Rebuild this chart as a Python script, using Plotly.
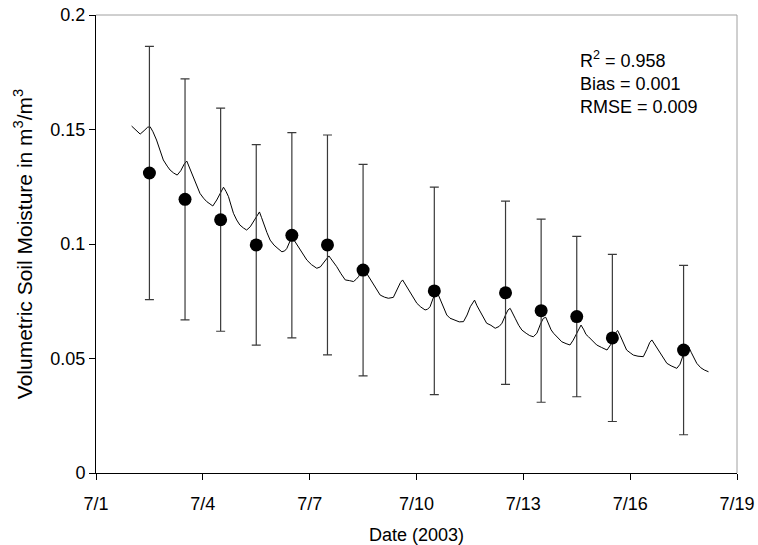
import pandas as pd
import plotly.graph_objects as go

# Continuous sensor record: decimal July day and volumetric soil moisture
line_day = [
    2.00, 2.10, 2.24, 2.35, 2.45, 2.52, 2.60, 2.70, 2.80, 2.89,
    3.00, 3.08, 3.18, 3.28, 3.38, 3.48, 3.55, 3.63, 3.73, 3.82,
    3.92, 4.02, 4.11, 4.20, 4.28, 4.39, 4.50, 4.58, 4.65, 4.72,
    4.79, 4.86, 4.95, 5.04, 5.14, 5.23, 5.33, 5.42, 5.52, 5.59,
    5.65, 5.70, 5.80, 5.89, 6.00, 6.11, 6.22, 6.30, 6.36, 6.44,
    6.50, 6.57, 6.68, 6.80, 6.92, 7.05, 7.20, 7.30, 7.38, 7.47,
    7.54, 7.60, 7.68, 7.76, 7.88, 8.00, 8.12, 8.23, 8.30, 8.37,
    8.45, 8.52, 8.60, 8.67, 8.74, 8.86, 8.98, 9.10, 9.21, 9.35,
    9.42, 9.49, 9.55, 9.61, 9.68, 9.77, 9.90, 10.01, 10.12, 10.24,
    10.31, 10.38, 10.46, 10.53, 10.58, 10.66, 10.75, 10.85, 10.94, 11.08,
    11.20, 11.32, 11.42, 11.51, 11.63, 11.70, 11.79, 11.88, 11.97, 12.09,
    12.21, 12.32, 12.40, 12.50, 12.57, 12.63, 12.70, 12.77, 12.87, 12.96,
    13.08, 13.18, 13.28, 13.38, 13.48, 13.56, 13.63, 13.70, 13.78, 13.85,
    13.96, 14.08, 14.20, 14.31, 14.40, 14.50, 14.56, 14.62, 14.70, 14.76,
    14.83, 14.95, 15.06, 15.20, 15.35, 15.45, 15.55, 15.62, 15.65, 15.72,
    15.80, 15.90, 16.00, 16.09, 16.22, 16.37, 16.47, 16.55, 16.61, 16.68,
    16.80, 16.92, 17.03, 17.15, 17.31, 17.40, 17.50, 17.58, 17.64, 17.72,
    17.80, 17.87, 17.98, 18.08, 18.20,
]
line_sm = [
    0.1515, 0.1500, 0.1480, 0.1495, 0.1510, 0.1512, 0.1490, 0.1454, 0.1405, 0.1367,
    0.1340, 0.1323, 0.1310, 0.1301, 0.1320, 0.1350, 0.1362, 0.1330, 0.1294, 0.1255,
    0.1221, 0.1200, 0.1185, 0.1175, 0.1166, 0.1192, 0.1225, 0.1248, 0.1230, 0.1207,
    0.1170, 0.1134, 0.1105, 0.1083, 0.1070, 0.1061, 0.1075, 0.1097, 0.1125, 0.1140,
    0.1115, 0.1090, 0.1050, 0.1017, 0.0995, 0.0980, 0.0966, 0.0970, 0.0981, 0.1010,
    0.1030, 0.1015, 0.0988, 0.0955, 0.0930, 0.0910, 0.0894, 0.0900, 0.0916, 0.0935,
    0.0948, 0.0935, 0.0918, 0.0901, 0.0870, 0.0843, 0.0840, 0.0836, 0.0845, 0.0857,
    0.0880, 0.0888, 0.0872, 0.0855, 0.0836, 0.0805, 0.0777, 0.0768, 0.0763, 0.0767,
    0.0790, 0.0814, 0.0832, 0.0843, 0.0825, 0.0799, 0.0768, 0.0741, 0.0725, 0.0712,
    0.0715, 0.0726, 0.0760, 0.0785, 0.0790, 0.0760, 0.0725, 0.0690, 0.0676, 0.0668,
    0.0660, 0.0661, 0.0690, 0.0726, 0.0755, 0.0730, 0.0704, 0.0675, 0.0654, 0.0645,
    0.0632, 0.0640, 0.0654, 0.0690, 0.0712, 0.0719, 0.0700, 0.0676, 0.0645, 0.0624,
    0.0610, 0.0600, 0.0595, 0.0610, 0.0650, 0.0675, 0.0680, 0.0650, 0.0625, 0.0610,
    0.0590, 0.0573, 0.0565, 0.0559, 0.0580, 0.0610, 0.0635, 0.0646, 0.0625, 0.0605,
    0.0595, 0.0575, 0.0559, 0.0548, 0.0537, 0.0560, 0.0600, 0.0618, 0.0622, 0.0600,
    0.0570, 0.0537, 0.0525, 0.0515, 0.0510, 0.0508, 0.0540, 0.0570, 0.0581, 0.0565,
    0.0537, 0.0505, 0.0479, 0.0468, 0.0457, 0.0475, 0.0520, 0.0545, 0.0552, 0.0525,
    0.0500, 0.0479, 0.0460, 0.0450, 0.0442,
]

# Field sampling campaign: mean and standard deviation
obs_day = [2.5, 3.5, 4.5, 5.5, 6.5, 7.5, 8.5, 10.5, 12.5, 13.5, 14.5, 15.5, 17.5]
obs_mean = [0.131, 0.1195, 0.1106, 0.0996, 0.1038, 0.0996, 0.0886,
            0.0795, 0.0787, 0.0709, 0.0683, 0.0590, 0.0537]
obs_sd = [0.0553, 0.0526, 0.0487, 0.0438, 0.0448, 0.0480, 0.0462,
          0.0453, 0.0400, 0.0400, 0.0350, 0.0365, 0.0370]

tick_days = [1, 4, 7, 10, 13, 16, 19]
tick_text = ["7/1", "7/4", "7/7", "7/10", "7/13", "7/16", "7/19"]

stats_text = "R<sup>2</sup> = 0.958<br>Bias = 0.001<br>RMSE = 0.009"

base = pd.Timestamp("2003-07-01")


def to_time(days):
    return [base + pd.to_timedelta(d - 1, unit="D") for d in days]


FONT = "Liberation Sans, Arial, sans-serif"

fig = go.Figure()
fig.add_trace(go.Scatter(
    x=to_time(line_day), y=line_sm, mode="lines",
    line=dict(color="black", width=1), showlegend=False,
))
fig.add_trace(go.Scatter(
    x=to_time(obs_day), y=obs_mean, mode="markers",
    marker=dict(color="black", size=13),
    error_y=dict(type="data", array=obs_sd, visible=True,
                 color="#3a3a3a", thickness=1.2, width=4.5),
    showlegend=False,
))

fig.add_annotation(
    x=0.752, y=0.933, xref="paper", yref="paper",
    xanchor="left", yanchor="top", align="left", showarrow=False,
    text=stats_text, font=dict(family=FONT, size=18, color="black"),
)

# Top and right frame lines in light grey
fig.add_shape(type="line", xref="paper", yref="paper", x0=0, x1=1, y0=1, y1=1,
              line=dict(color="#a0a0a0", width=1))
fig.add_shape(type="line", xref="paper", yref="paper", x0=1, x1=1, y0=0, y1=1,
              line=dict(color="#a0a0a0", width=1))

fig.update_layout(
    width=758, height=545,
    margin=dict(l=96, r=21, t=15, b=72, autoexpand=False),
    paper_bgcolor="white", plot_bgcolor="white",
    font=dict(family=FONT, size=18, color="black"),
    xaxis=dict(
        range=to_time([1, 19]),
        tickvals=to_time(tick_days), ticktext=tick_text,
        showgrid=False, zeroline=False, automargin=False,
        showline=True, linecolor="black", linewidth=1,
        ticks="outside", ticklen=6, tickcolor="black",
        tickfont=dict(size=18), ticklabelstandoff=8,
        title=dict(text="Date (2003)", font=dict(size=18), standoff=18),
    ),
    yaxis=dict(
        range=[0, 0.2],
        tickvals=[0, 0.05, 0.1, 0.15, 0.2],
        ticktext=["0", "0.05", "0.1", "0.15", "0.2"],
        showgrid=False, zeroline=False, automargin=False,
        showline=True, linecolor="black", linewidth=1,
        ticks="outside", ticklen=6, tickcolor="black",
        tickfont=dict(size=18),
        title=dict(text="Volumetric Soil Moisture in m<sup>3</sup>/m<sup>3</sup>",
                   font=dict(size=21), standoff=12),
    ),
)

fig.write_html("out.html")
